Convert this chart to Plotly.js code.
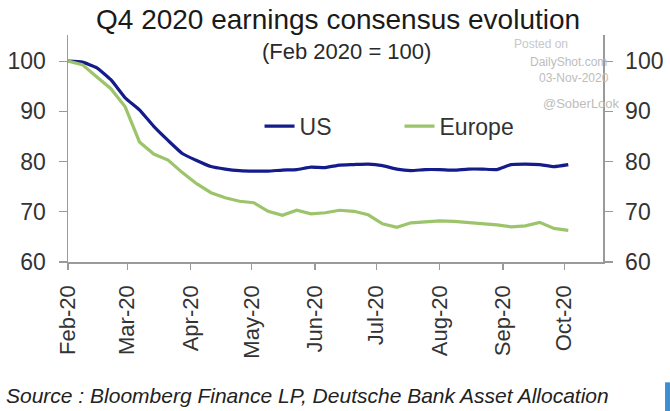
<!DOCTYPE html>
<html>
<head>
<meta charset="utf-8">
<script src="https://cdn.plot.ly/plotly-3.0.1.min.js"></script>
<style>html,body{margin:0;padding:0;background:#fff;}#chart{width:670px;height:411px;}</style>
</head>
<body>
<div id="chart"></div>
<script>
// Weekly observations (Feb 2020 = 100)
const dates = [
  "2020-02-01","2020-02-08","2020-02-15","2020-02-22","2020-02-29","2020-03-07","2020-03-14",
  "2020-03-21","2020-03-28","2020-04-04","2020-04-11","2020-04-18","2020-04-25","2020-05-02",
  "2020-05-09","2020-05-16","2020-05-23","2020-05-30","2020-06-06","2020-06-13","2020-06-20",
  "2020-06-27","2020-07-04","2020-07-11","2020-07-18","2020-07-25","2020-08-01","2020-08-08",
  "2020-08-15","2020-08-22","2020-08-29","2020-09-05","2020-09-12","2020-09-19","2020-09-26",
  "2020-10-03"
];
const usValues = [
  100.0, 99.8, 98.7, 96.3, 92.7, 90.3, 87.0, 84.2, 81.6, 80.2, 79.0, 78.5, 78.2, 78.1,
  78.1, 78.3, 78.4, 78.9, 78.8, 79.3, 79.4, 79.5, 79.2, 78.5, 78.2, 78.4, 78.4, 78.3,
  78.5, 78.5, 78.4, 79.4, 79.5, 79.4, 79.0, 79.4
];
const europeValues = [
  100.0, 99.3, 96.9, 94.5, 90.9, 83.9, 81.5, 80.3, 77.8, 75.6, 73.8, 72.8, 72.1, 71.8,
  70.1, 69.3, 70.3, 69.6, 69.8, 70.3, 70.1, 69.4, 67.6, 66.9, 67.8, 68.0, 68.2, 68.1,
  67.9, 67.7, 67.4, 67.0, 67.2, 67.9, 66.7, 66.3
];
const seriesNames = ["US", "Europe"];
const yTicks = [60, 70, 80, 90, 100];
const xTickDates = ["2020-02-01","2020-03-01","2020-04-01","2020-05-01","2020-06-01",
                    "2020-07-01","2020-08-01","2020-09-01","2020-10-01"];
const xTickLabels = ["Feb-20","Mar-20","Apr-20","May-20","Jun-20","Jul-20","Aug-20","Sep-20","Oct-20"];

const FONT = "Liberation Sans, Arial, Helvetica, sans-serif";
const TXT = "#333333";
const AX = "#9a9a9a";

const traces = [
  {x: dates, y: usValues, name: seriesNames[0], type: "scatter", mode: "lines",
   line: {color: "#141c8c", width: 3.2, shape: "spline", smoothing: 0.4}, yaxis: "y"},
  {x: dates, y: europeValues, name: seriesNames[1], type: "scatter", mode: "lines",
   line: {color: "#9cc46a", width: 3.2}, yaxis: "y2"}
];

const yCommon = {
  range: [60, 105.2], tickvals: yTicks, ticktext: yTicks.map(String),
  showgrid: false, zeroline: false, showline: true, linecolor: AX, linewidth: 1.5,
  ticks: "outside", ticklen: 8, tickwidth: 1.2, tickcolor: AX,
  tickfont: {family: FONT, size: 23, color: TXT}, ticklabelstandoff: 8
};

const layout = {
  width: 670, height: 411,
  margin: {l: 68, r: 67, t: 35, b: 148.5},
  paper_bgcolor: "#ffffff", plot_bgcolor: "#ffffff",
  showlegend: true,
  legend: {orientation: "h", x: 0.358, y: 0.598, xanchor: "left", yanchor: "middle",
           font: {family: FONT, size: 23, color: TXT}, bgcolor: "rgba(0,0,0,0)",
           entrywidth: 95, tracegroupgap: 0},
  xaxis: {
    type: "date", range: ["2020-02-01", "2020-10-20"],
    tickvals: xTickDates, ticktext: xTickLabels, tickangle: -90,
    showgrid: false, zeroline: false, showline: true, linecolor: AX, linewidth: 1.5,
    ticks: "outside", ticklen: 6, tickwidth: 1.2, tickcolor: AX,
    tickfont: {family: FONT, size: 22, color: TXT}, ticklabelstandoff: 7
  },
  yaxis: Object.assign({}, yCommon, {side: "left"}),
  yaxis2: Object.assign({}, yCommon, {side: "right", overlaying: "y"}),
  annotations: [
    {text: "Q4 2020 earnings consensus evolution", xref: "paper", yref: "paper",
     x: 0.505, y: 1, yshift: 16, xanchor: "center", yanchor: "middle", showarrow: false,
     borderpad: 0, font: {family: FONT, size: 28, color: "#1a1a1a"}},
    {text: "(Feb 2020 = 100)", xref: "paper", yref: "paper",
     x: 0.52, y: 1, yshift: -16, xanchor: "center", yanchor: "middle", showarrow: false,
     font: {family: FONT, size: 22, color: "#2a2a2a"}},
    {text: "Posted on", xref: "paper", yref: "paper", x: 0.885, y: 1, yshift: -9,
     xanchor: "center", yanchor: "middle", showarrow: false, borderpad: 0,
     font: {family: FONT, size: 12, color: "#c8c8c8"}},
    {text: "DailyShot.com", xref: "paper", yref: "paper", x: 0.935, y: 1, yshift: -27,
     xanchor: "center", yanchor: "middle", showarrow: false,
     font: {family: FONT, size: 12, color: "#bdbdbd"}},
    {text: "03-Nov-2020", xref: "paper", yref: "paper", x: 0.945, y: 1, yshift: -43,
     xanchor: "center", yanchor: "middle", showarrow: false,
     font: {family: FONT, size: 12, color: "#bdbdbd"}},
    {text: "@SoberLook", xref: "paper", yref: "paper", x: 0.96, y: 1, yshift: -68,
     xanchor: "center", yanchor: "middle", showarrow: false,
     font: {family: FONT, size: 13, color: "#bdbdbd"}},
    {text: "<i>Source : Bloomberg Finance LP, Deutsche Bank Asset Allocation</i>",
     xref: "paper", yref: "paper", x: -0.12, y: 0, yshift: -133, xanchor: "left", yanchor: "middle",
     showarrow: false, font: {family: FONT, size: 21, color: "#222222"}}
  ],
  shapes: [
    {type: "rect", xref: "paper", yref: "paper", x0: 1.116, x1: 1.14, y0: -0.53, y1: -0.68,
     line: {width: 0}, fillcolor: "#3a8fd4"}
  ]
};

Plotly.newPlot("chart", traces, layout, {displayModeBar: false, staticPlot: true});
</script>
</body>
</html>
